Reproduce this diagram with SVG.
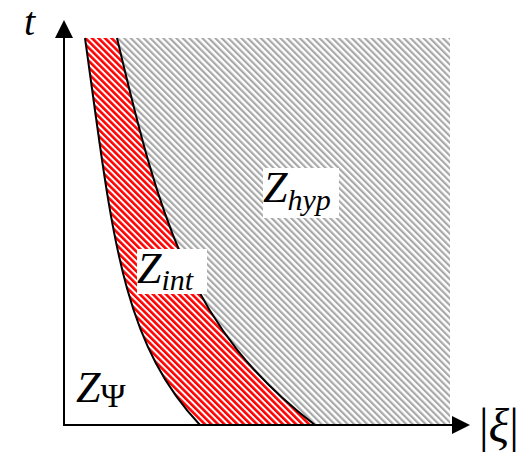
<svg xmlns="http://www.w3.org/2000/svg" width="528" height="452" viewBox="0 0 528 452">
<style>
.lbl{font-family:"Liberation Serif","DejaVu Serif",serif;font-style:italic;fill:#000}
.up{font-family:"Liberation Serif","DejaVu Serif",serif;fill:#000}
.curve{fill:none;stroke:#000;stroke-width:2}
.axis{stroke:#000;stroke-width:2;fill:none}
</style>
<defs>
<pattern id="gray" width="4.6" height="4.6" patternUnits="userSpaceOnUse" patternTransform="rotate(-45)">
<rect width="4.6" height="4.6" fill="#fff"/>
<rect width="2.2" height="4.6" fill="#a8a8a8"/>
</pattern>
<pattern id="red" width="4.6" height="4.6" patternUnits="userSpaceOnUse" patternTransform="rotate(-45)">
<rect width="4.6" height="4.6" fill="#fff"/>
<rect width="2.6" height="4.6" fill="#ff0000"/>
</pattern>
</defs>
<rect width="528" height="452" fill="#fff"/>
<g id="hyp-region">
<path d="M117,38 L450,38 L450,425 L315,425 C190,330 160,220 117,38 Z" fill="url(#gray)"/>
</g>
<g id="int-region">
<path d="M85,38 C112,230 120,340 200,425 L315,425 C190,330 160,220 117,38 Z" fill="url(#red)"/>
</g>
<g id="boundaries">
<path class="curve" d="M85,38 C112,230 120,340 200,425"/>
<path class="curve" d="M117,38 C160,220 190,330 315,425"/>
</g>
<g id="axes">
<path class="axis" d="M64,425 L64,35"/>
<path class="axis" d="M63,425 L458,425"/>
<polygon points="64,20 55,38 73,38" fill="#000"/>
<polygon points="470,425 452,416 452,434" fill="#000"/>
</g>
<g id="label-t"><text class="lbl" x="24" y="35" font-size="40">t</text></g>
<g id="label-xi"><text class="up" x="479" y="442" font-size="48">|<tspan class="lbl">ξ</tspan>|</text></g>
<g id="label-hyp">
<rect x="263" y="168" width="76" height="50" fill="#fff"/>
<text class="lbl" x="263" y="202" font-size="44">Z<tspan font-size="30" dy="8">hyp</tspan></text>
</g>
<g id="label-int">
<rect x="137" y="249" width="70" height="45" fill="#fff"/>
<text class="lbl" x="137" y="283" font-size="44">Z<tspan font-size="30" dy="7">int</tspan></text>
</g>
<g id="label-psi">
<text class="lbl" x="76" y="402" font-size="44">Z<tspan class="up" font-style="normal" font-size="34" dy="5">Ψ</tspan></text>
</g>
</svg>
